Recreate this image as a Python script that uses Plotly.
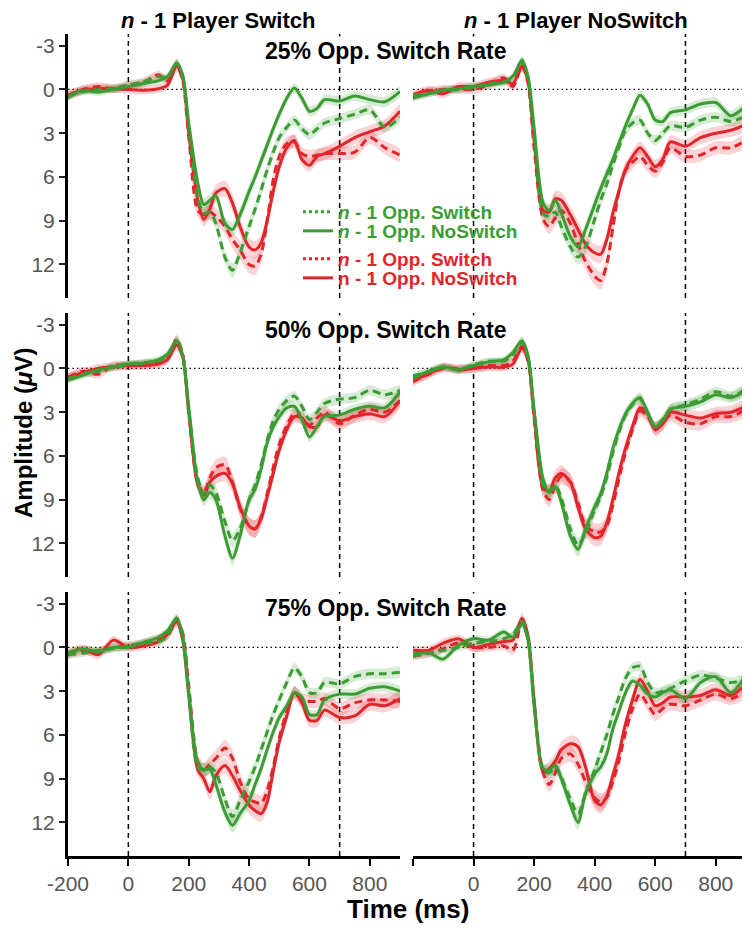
import plotly.graph_objects as go

# ---------------- data (amplitude in microvolts) ----------------
T = [-200, -150, -100, -50, 0, 50, 100, 130, 160, 180, 200, 230, 250, 270, 290, 320, 345, 370,
     400, 420, 440, 460, 480, 500, 525, 550, 575, 600, 625, 650, 700, 750, 800, 850, 900]

# 25% Opp. Switch Rate, n-1 Player Switch
G_SW_25_PSW = [0.45, 0.15, 0.0, -0.05, -0.3, -0.5, -0.9, -0.8, -1.8, -0.9, 2.6, 7.4, 8.5, 8.4, 9.2, 11.5, 12.4, 11.2,
               9.4, 8.2, 6.9, 5.5, 4.3, 3.3, 2.6, 2.1, 2.7, 3.1, 2.7, 2.3, 2.0, 1.7, 1.4, 2.6, 1.9]
G_NS_25_PSW = [0.55, 0.05, 0.2, 0.0, -0.2, -0.4, -0.6, -0.9, -1.8, -1.0, 2.3, 6.4, 7.9, 7.6, 7.3, 9.2, 9.6, 8.6,
               7.0, 6.0, 4.9, 3.8, 2.7, 1.7, 0.6, -0.1, 0.6, 1.5, 1.3, 0.7, 0.8, 0.45, 0.7, 0.85, 0.15]
R_SW_25_PSW = [0.4, 0.0, -0.2, -0.05, -0.3, -0.5, -1.0, -0.6, -1.7, -0.6, 3.2, 8.3, 8.6, 8.4, 8.7, 9.4, 10.3, 11.0,
               12.0, 12.1, 11.3, 9.0, 6.2, 4.6, 3.7, 3.6, 4.4, 4.6, 4.5, 4.4, 4.4, 4.3, 3.3, 4.0, 4.5]
R_NS_25_PSW = [0.4, 0.05, -0.05, -0.05, 0.0, 0.05, -0.05, -0.3, -1.6, -0.8, 3.0, 7.6, 8.9, 8.2, 7.1, 6.8, 7.8, 9.4,
               10.8, 11.0, 10.5, 9.0, 7.0, 5.3, 4.0, 3.5, 4.8, 5.2, 4.6, 4.4, 3.9, 3.3, 2.9, 2.5, 1.5]

# 25% Opp. Switch Rate, n-1 Player NoSwitch
G_SW_25_PNS = [0.4, 0.3, 0.05, 0.0, -0.15, -0.4, -0.5, -0.8, -1.9, -0.6, 3.2, 8.5, 8.7, 8.4, 9.4, 10.8, 11.5, 10.8,
               8.9, 7.6, 6.5, 5.2, 4.0, 2.9, 2.3, 2.1, 3.0, 3.5, 3.0, 2.5, 2.6, 2.1, 1.9, 2.2, 1.8]
G_NS_25_PNS = [0.6, 0.3, 0.05, -0.05, -0.2, -0.3, -0.5, -0.9, -2.0, -0.9, 2.6, 7.8, 8.3, 7.6, 8.5, 10.1, 10.8, 9.6,
               7.9, 6.8, 5.8, 4.8, 3.7, 2.6, 1.4, 0.4, 1.0, 2.1, 2.2, 1.6, 1.4, 1.0, 0.9, 1.8, 1.1]
R_SW_25_PNS = [0.5, 0.15, 0.0, 0.0, 0.0, -0.3, -0.8, -0.2, -1.6, -0.4, 4.0, 8.9, 9.4, 8.8, 8.3, 9.2, 10.6, 11.8,
               12.8, 13.1, 12.0, 9.5, 7.0, 5.6, 5.0, 4.6, 5.2, 5.6, 5.0, 4.0, 4.6, 4.5, 4.0, 4.0, 3.5]
R_NS_25_PNS = [0.4, 0.05, 0.3, -0.2, -0.2, -0.5, -0.6, -0.4, -1.6, -0.6, 3.5, 8.3, 8.4, 7.5, 7.6, 8.6, 9.6, 10.6,
               11.2, 11.3, 10.3, 8.5, 7.0, 5.6, 4.6, 4.0, 4.6, 5.3, 4.8, 3.6, 3.9, 3.3, 3.0, 2.8, 2.4]

# 50% Opp. Switch Rate, n-1 Player Switch
G_SW_50_PSW = [0.7, 0.4, 0.2, -0.1, -0.3, -0.4, -0.5, -0.9, -1.9, -0.8, 2.8, 7.5, 8.6, 8.0, 8.5, 10.5, 11.8, 11.0,
               9.0, 8.0, 6.6, 4.9, 3.6, 2.8, 2.2, 1.9, 2.6, 3.5, 3.0, 2.4, 2.1, 2.0, 1.5, 1.8, 1.5]
G_NS_50_PSW = [0.8, 0.45, 0.1, -0.1, -0.3, -0.35, -0.6, -1.0, -1.9, -0.9, 2.6, 7.8, 9.0, 8.5, 9.0, 11.5, 13.0, 11.5,
               9.0, 8.3, 6.9, 5.1, 4.0, 3.3, 2.7, 2.6, 3.5, 4.7, 4.0, 3.3, 3.2, 2.8, 2.6, 2.7, 1.6]
R_SW_50_PSW = [0.6, 0.2, 0.4, -0.2, -0.2, -0.3, -0.4, -0.7, -2.0, -1.0, 3.0, 7.9, 8.5, 7.5, 6.8, 6.6, 7.8, 9.6,
               10.8, 11.0, 10.2, 8.6, 6.8, 5.2, 3.9, 3.1, 3.4, 3.9, 3.4, 3.0, 3.8, 3.2, 2.8, 3.0, 2.2]
R_NS_50_PSW = [0.6, 0.3, 0.0, -0.1, -0.2, -0.2, -0.3, -0.6, -1.6, -0.8, 3.0, 8.0, 8.7, 7.8, 7.4, 7.2, 7.9, 9.5,
               10.8, 11.0, 10.3, 8.8, 7.2, 5.6, 4.2, 3.3, 3.4, 4.0, 4.0, 3.2, 3.6, 3.3, 3.1, 3.3, 2.2]

# 50% Opp. Switch Rate, n-1 Player NoSwitch
G_SW_50_PNS = [0.5, 0.25, -0.1, 0.1, -0.25, -0.5, -0.5, -0.9, -1.8, -0.7, 3.0, 8.0, 8.4, 8.0, 8.9, 11.0, 12.1, 11.3,
               9.7, 8.8, 7.5, 5.8, 4.4, 3.3, 2.5, 2.1, 3.1, 4.0, 3.5, 2.8, 2.5, 2.1, 1.6, 1.9, 1.4]
G_NS_50_PNS = [0.7, 0.2, -0.1, 0.1, -0.2, -0.45, -0.6, -1.1, -1.9, -0.9, 2.8, 7.6, 8.5, 8.1, 9.2, 11.5, 12.4, 11.0,
               9.5, 8.6, 7.2, 5.5, 4.2, 3.2, 2.4, 2.0, 3.0, 4.0, 3.6, 2.8, 2.6, 2.3, 1.8, 2.0, 1.5]
R_SW_50_PNS = [0.9, 0.4, 0.0, 0.0, 0.0, -0.2, -0.2, -0.5, -1.5, -0.5, 3.4, 8.4, 9.0, 8.0, 7.4, 7.8, 9.2, 10.8,
               11.2, 11.2, 10.8, 9.4, 7.6, 5.9, 4.2, 2.9, 3.3, 4.1, 3.8, 3.2, 3.7, 3.8, 3.3, 3.3, 2.8]
R_NS_50_PNS = [0.8, 0.4, -0.1, 0.1, 0.0, -0.1, -0.1, -0.3, -1.4, -0.6, 3.2, 8.2, 8.4, 7.5, 7.2, 7.8, 9.5, 11.0,
               11.6, 11.5, 10.6, 9.0, 7.2, 5.6, 4.0, 2.7, 3.1, 4.2, 3.8, 3.0, 3.2, 3.4, 3.1, 3.0, 2.6]

# 75% Opp. Switch Rate, n-1 Player Switch
G_SW_75_PSW = [0.5, 0.4, 0.2, 0.1, -0.1, -0.3, -0.4, -0.8, -2.0, -0.8, 3.0, 8.2, 8.4, 8.2, 8.6, 10.4, 11.6, 10.5,
               9.2, 8.2, 7.0, 5.8, 4.6, 3.6, 2.4, 1.4, 2.0, 3.1, 3.1, 2.4, 2.5, 2.0, 1.8, 1.8, 1.7]
G_NS_75_PSW = [0.35, 0.1, 0.3, 0.0, 0.0, -0.35, -0.7, -1.15, -2.0, -0.8, 3.1, 7.9, 8.4, 8.35, 9.4, 11.3, 12.2, 11.4,
               10.5, 9.4, 8.3, 7.0, 5.8, 4.8, 4.0, 3.1, 3.4, 4.6, 4.6, 3.6, 3.2, 3.2, 2.8, 2.7, 3.0]
R_SW_75_PSW = [0.5, 0.2, 0.3, 0.0, -0.1, -0.3, -0.6, -0.8, -1.8, -1.0, 2.6, 7.8, 8.4, 8.0, 7.6, 6.9, 7.6, 9.2,
               10.4, 10.6, 10.7, 9.8, 8.2, 6.2, 4.4, 3.1, 3.6, 3.7, 3.7, 3.5, 4.2, 3.8, 3.6, 3.6, 3.7]
R_NS_75_PSW = [0.4, 0.1, 0.5, -0.5, 0.0, -0.1, -0.4, -0.9, -1.8, -0.5, 3.3, 8.4, 9.0, 9.9, 8.8, 8.1, 8.8, 9.8,
               10.8, 11.2, 11.4, 10.6, 8.5, 6.5, 4.7, 3.1, 3.8, 5.0, 5.0, 4.3, 4.8, 4.7, 3.9, 4.0, 3.5]

# 75% Opp. Switch Rate, n-1 Player NoSwitch
G_SW_75_PNS = [0.6, 0.4, 0.2, 0.0, -0.3, -0.4, -0.6, -0.9, -1.8, -0.6, 3.8, 8.4, 8.6, 8.2, 8.9, 10.4, 11.4, 10.0,
               8.4, 7.2, 6.0, 4.6, 3.4, 2.2, 1.4, 1.3, 2.4, 3.1, 3.0, 2.8, 2.3, 1.9, 2.1, 2.4, 2.2]
G_NS_75_PNS = [0.45, 0.35, 0.8, -0.15, -0.6, -0.5, -1.05, -0.7, -1.6, -0.5, 4.0, 8.3, 8.4, 8.1, 9.0, 10.8, 12.0, 10.0,
               8.7, 8.2, 7.3, 5.6, 4.4, 3.2, 2.3, 2.6, 3.2, 3.4, 3.1, 2.9, 3.5, 2.4, 2.0, 3.1, 1.9]
R_SW_75_PNS = [0.6, 0.4, 0.1, -0.3, 0.0, 0.0, -0.1, 0.2, -1.8, -0.5, 3.8, 8.6, 9.4, 8.6, 7.6, 7.3, 8.0, 9.2,
               10.3, 10.6, 10.3, 9.2, 7.8, 6.0, 4.2, 3.2, 3.9, 4.6, 4.2, 3.9, 4.0, 3.6, 3.2, 3.5, 3.0]
R_NS_75_PNS = [0.2, 0.2, -0.3, -0.6, 0.0, -0.2, -0.4, -0.5, -2.0, -0.8, 3.6, 8.5, 8.3, 7.8, 7.0, 6.6, 6.8, 8.2,
               10.5, 10.8, 10.2, 8.8, 7.3, 5.4, 3.6, 2.2, 3.0, 4.0, 3.8, 3.4, 3.4, 3.3, 2.9, 3.3, 2.5]

# half-width of the shaded error bands
SE_GREEN = [0.25, 0.25, 0.25, 0.25, 0.25, 0.25, 0.25, 0.25, 0.3, 0.3, 0.3, 0.4, 0.45, 0.45, 0.45, 0.45, 0.5, 0.5,
            0.5, 0.45, 0.45, 0.45, 0.4, 0.4, 0.35, 0.35, 0.35, 0.35, 0.35, 0.35, 0.35, 0.35, 0.35, 0.35, 0.35]
SE_RED = [0.3, 0.3, 0.3, 0.3, 0.3, 0.3, 0.3, 0.3, 0.35, 0.35, 0.35, 0.45, 0.5, 0.55, 0.55, 0.55, 0.6, 0.6,
          0.6, 0.6, 0.55, 0.55, 0.5, 0.45, 0.45, 0.45, 0.45, 0.45, 0.45, 0.45, 0.45, 0.45, 0.45, 0.45, 0.45]

COL_TITLES = ["<b><i>n</i> - 1 Player Switch</b>", "<b><i>n</i> - 1 Player NoSwitch</b>"]
ROW_TITLES = ["<b>25% Opp. Switch Rate</b>", "<b>50% Opp. Switch Rate</b>", "<b>75% Opp. Switch Rate</b>"]
LEGEND_LABELS = ["<b><i>n</i> - 1 Opp. Switch</b>", "<b><i>n</i> - 1 Opp. NoSwitch</b>",
                 "<b><i>n</i> - 1 Opp. Switch</b>", "<b>n - 1 Opp. NoSwitch</b>"]
X_TICKS = [-200, 0, 200, 400, 600, 800]
X_TICKTEXT_LEFT = ["-200", "0", "200", "400", "600", "800"]
X_TICKTEXT_RIGHT = ["", "0", "200", "400", "600", "800"]
Y_TICKS = [-3, 0, 3, 6, 9, 12]
Y_TICKTEXT = ["-3", "0", "3", "6", "9", "12"]
V_LINES = [0, 700]
H_LINE = 0

PANELS = [
    [(G_SW_25_PSW, G_NS_25_PSW, R_SW_25_PSW, R_NS_25_PSW), (G_SW_25_PNS, G_NS_25_PNS, R_SW_25_PNS, R_NS_25_PNS)],
    [(G_SW_50_PSW, G_NS_50_PSW, R_SW_50_PSW, R_NS_50_PSW), (G_SW_50_PNS, G_NS_50_PNS, R_SW_50_PNS, R_NS_50_PNS)],
    [(G_SW_75_PSW, G_NS_75_PSW, R_SW_75_PSW, R_NS_75_PSW), (G_SW_75_PNS, G_NS_75_PNS, R_SW_75_PNS, R_NS_75_PNS)],
]

# ---------------- style ----------------
# the page body has an 8px margin, so the figure is 742x920 and page pixels are offset by 8
OFF = 8
W, H = 742, 920
FONT = "Liberation Sans, Arial, Helvetica, sans-serif"
GREEN = "#3b9c34"
RED = "#e2252b"
GREEN_BAND = "rgba(59,156,52,0.20)"
RED_BAND = "rgba(226,37,43,0.20)"
DASH = "8px,5px"
TICK_GRAY = "#555555"


def fx(px):
    return (px - OFF) / W


def fy(py):
    return 1 - (py - OFF) / H


XDOM = [[fx(68), fx(400)], [fx(413), fx(746)]]
XRANGE = [[-200, 900], [-200, 900]]
YDOM = [[fy(298), fy(34)], [fy(577), fy(313)], [fy(856), fy(592)]]
YRANGE = [14.3, -3.8]

fig = go.Figure()
shapes = []
layout_axes = {}

for r in range(3):
    for c in range(2):
        n = r * 2 + c + 1
        xa = "x" if n == 1 else f"x{n}"
        ya = "y" if n == 1 else f"y{n}"
        g_sw, g_ns, r_sw, r_ns = PANELS[r][c]
        series = [
            (r_sw, SE_RED, RED, RED_BAND, DASH),
            (r_ns, SE_RED, RED, RED_BAND, "solid"),
            (g_sw, SE_GREEN, GREEN, GREEN_BAND, DASH),
            (g_ns, SE_GREEN, GREEN, GREEN_BAND, "solid"),
        ]
        for vals, se, col, band, dash in series:
            upper = [v + s for v, s in zip(vals, se)]
            lower = [v - s for v, s in zip(vals, se)]
            fig.add_trace(go.Scatter(
                x=T + T[::-1], y=upper + lower[::-1], fill="toself", fillcolor=band,
                mode="lines", line=dict(width=0, shape="spline", smoothing=0.8),
                hoverinfo="skip", showlegend=False, xaxis=xa, yaxis=ya))
        for vals, se, col, band, dash in series:
            fig.add_trace(go.Scatter(
                x=T, y=vals, mode="lines",
                line=dict(color=col, width=3, dash=dash, shape="spline", smoothing=0.8),
                showlegend=False, xaxis=xa, yaxis=ya))

        xdom_ref = f"{xa} domain"
        ydom_ref = f"{ya} domain"
        shapes.append(dict(type="line", xref=xdom_ref, x0=0, x1=1, yref=ya, y0=H_LINE, y1=H_LINE,
                           line=dict(color="black", width=1.3, dash="1.5px,3px"), layer="below"))
        for v in V_LINES:
            shapes.append(dict(type="line", xref=xa, x0=v, x1=v, yref=ydom_ref, y0=0, y1=1,
                               line=dict(color="black", width=1.5, dash="5px,4px"), layer="below"))

        bottom = (r == 2)
        xkey = "xaxis" if n == 1 else f"xaxis{n}"
        ykey = "yaxis" if n == 1 else f"yaxis{n}"
        layout_axes[xkey] = dict(
            domain=XDOM[c], range=XRANGE[c], anchor=ya, visible=bottom, automargin=False,
            showgrid=False, zeroline=False, showline=True, linecolor="black", linewidth=3,
            ticks="outside", ticklen=7, tickwidth=2, tickcolor="black",
            tickvals=X_TICKS, ticktext=X_TICKTEXT_LEFT if c == 0 else X_TICKTEXT_RIGHT,
            tickfont=dict(family=FONT, size=21, color=TICK_GRAY))
        layout_axes[ykey] = dict(
            domain=YDOM[r], range=YRANGE, anchor=xa, visible=(c == 0), automargin=False,
            showgrid=False, zeroline=False, showline=True, linecolor="black", linewidth=3,
            ticks="outside", ticklen=6, tickwidth=2, tickcolor="#222222",
            tickvals=Y_TICKS, ticktext=Y_TICKTEXT,
            tickfont=dict(family=FONT, size=21, color=TICK_GRAY))

# legend entries (one legend box each for exact placement)
LEG_STYLE = [(GREEN, "dot", 212), (GREEN, "solid", 231), (RED, "dot", 259), (RED, "solid", 278)]
legends = {}
for i, (label, (col, dash, ypx)) in enumerate(zip(LEGEND_LABELS, LEG_STYLE)):
    lname = "legend" if i == 0 else f"legend{i + 1}"
    fig.add_trace(go.Scatter(x=[None], y=[None], mode="lines", name=label,
                             line=dict(color=col, width=3, dash=dash),
                             legend=lname, showlegend=True, xaxis="x", yaxis="y"))
    legends[lname] = dict(x=fx(298), y=fy(ypx), xanchor="left", yanchor="middle",
                          bgcolor="rgba(255,255,255,0)", borderwidth=0, itemwidth=30,
                          font=dict(family=FONT, size=19, color=col))

annotations = []
for text, xc in zip(COL_TITLES, [218, 576]):
    annotations.append(dict(text=text, x=fx(xc), y=fy(21), xref="paper", yref="paper",
                            xanchor="center", yanchor="middle", showarrow=False,
                            font=dict(family=FONT, size=22, color="black")))
for text, ypx in zip(ROW_TITLES, [51, 330, 608]):
    annotations.append(dict(text=text, x=fx(386), y=fy(ypx), xref="paper", yref="paper",
                            xanchor="center", yanchor="middle", showarrow=False,
                            bgcolor="white", font=dict(family=FONT, size=23, color="black")))
annotations.append(dict(text="<b>Amplitude (<i>μ</i>V)</b>", x=fx(24), y=fy(433), xref="paper", yref="paper",
                        xanchor="center", yanchor="middle", showarrow=False, textangle=-90,
                        font=dict(family=FONT, size=24, color="black")))
annotations.append(dict(text="<b>Time (ms)</b>", x=fx(408), y=fy(909), xref="paper", yref="paper",
                        xanchor="center", yanchor="middle", showarrow=False,
                        font=dict(family=FONT, size=26, color="black")))

fig.update_layout(
    template="none",
    width=W, height=H, margin=dict(l=0, r=0, t=0, b=0, autoexpand=False),
    paper_bgcolor="white", plot_bgcolor="white",
    font=dict(family=FONT),
    shapes=shapes, annotations=annotations,
    **layout_axes, **legends)

fig.write_html("out.html")
